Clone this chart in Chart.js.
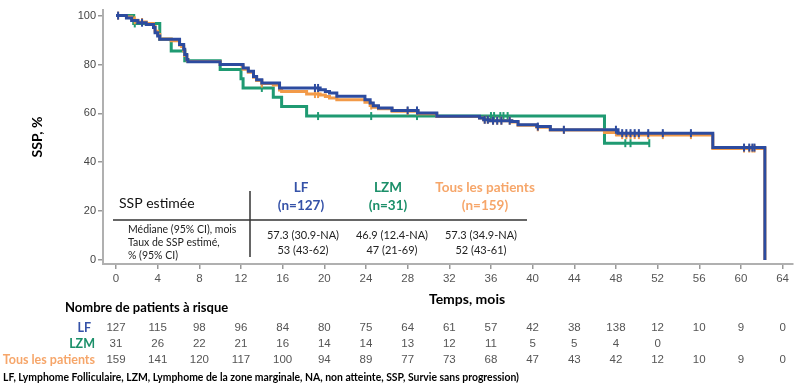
<!DOCTYPE html>
<html><head><meta charset="utf-8">
<script src="https://cdn.jsdelivr.net/npm/chart.js@4/dist/chart.umd.min.js"></script>
<style>html,body{margin:0;padding:0;background:#fff}#wrap{width:800px;height:392px;position:relative}</style>
</head><body><div id="wrap"><canvas id="c" width="800" height="392"></canvas></div>
<script>
// ---- Data ----
const xTickValues = [0,4,8,12,16,20,24,28,32,36,40,44,48,52,56,60,64];
const yTickValues = [0,20,40,60,80,100];

// LF (Lymphome Folliculaire) – event times (months) and survival (%)
const lfTimes = [0,1.0,1.5,2.1,2.9,3.6,3.75,4.0,4.2,6.1,6.5,6.6,6.8,6.9,10.0,12.2,12.7,13.2,13.5,14.0,15.7,19.6,20.1,20.5,21.2,23.9,24.4,24.7,25.2,26.5,29.0,30.8,34.9,35.3,35.9,38.0,38.6,40.4,41.7,48.2,57.3,62.3];
const lfSurv  = [100,99.0,98.0,97.1,96.4,95.1,93.0,91.7,90.3,88.2,86.2,84.1,82.0,81.1,80.0,78.6,77.2,75.1,73.8,72.4,70.4,69.7,69.0,68.3,67.0,65.6,64.2,63.1,62.2,61.2,60.1,58.8,58.1,57.4,57.0,56.7,55.3,54.6,53.3,51.9,46.0,0];
const lfCensor = [0.2,2.5,19.1,19.4,28.0,28.9,35.4,35.7,36.2,36.6,37.0,37.8,40.5,43.0,48.0,48.6,49.0,49.4,49.8,50.2,51.1,52.5,55.2,60.3,60.8,61.1,61.3];

// LZM (Lymphome de la zone marginale)
const lzmTimes = [0,1.7,4.2,5.3,6.6,10.0,12.0,12.2,15.1,15.9,18.3,46.9,51.2];
const lzmSurv  = [100,96.8,90.3,85.5,81.5,78.0,74.2,70.4,66.6,62.8,58.9,47.8,47.8];
const lzmCensor = [1.8,14.0,19.4,24.5,28.9,36.0,36.3,36.9,37.2,37.6,48.9,49.4,51.2];

// Tous les patients
const allTimes = [0,1.0,1.5,1.7,2.1,2.9,3.6,3.75,4.0,4.2,5.3,6.1,6.3,6.5,6.6,6.8,6.9,10.0,12.1,12.2,12.7,13.2,13.5,14.0,15.1,15.7,15.9,18.3,19.6,20.1,20.5,21.2,23.9,24.4,24.7,25.2,26.5,29.0,30.8,34.9,35.3,35.9,38.0,38.6,40.4,41.7,46.9,48.2,57.3,62.3];
const allSurv  = [100,99.4,98.7,98.1,97.4,96.8,95.5,93.6,92.3,90.4,89.7,88.0,87.4,85.6,83.7,81.9,81.2,80.0,79.4,78.1,76.8,74.8,73.5,72.2,71.6,69.6,69.0,67.9,67.5,66.9,66.3,65.6,64.5,63.2,62.5,61.9,60.9,59.8,58.7,58.1,57.4,57.0,56.5,55.1,54.3,53.2,52.2,51.1,45.6,0];
const allCensor = [0.2,1.8,2.5,14.0,19.1,19.4,24.5,28.0,28.9,35.4,35.7,36.2,36.6,37.0,37.8,40.5,43.0,48.0,48.6,49.0,49.4,49.8,50.2,51.1,52.5,55.2,60.3,60.8,61.1,61.3];

// Nombre de patients à risque
const lfRisk  = ["127","115","98","96","84","80","75","64","61","57","42","38","138","12","10","9","0"];
const lzmRisk = ["31","26","22","21","16","14","14","13","12","11","5","5","4","0"];
const allRisk = ["159","141","120","117","100","94","89","77","73","68","47","43","42","12","10","9","0"];

// Table texts
const groupNames = ["LF","LZM","Tous les patients"];
const groupN = ["(n=127)","(n=31)","(n=159)"];
const medianTxt = ["57.3 (30.9-NA)","46.9 (12.4-NA)","57.3 (34.9-NA)"];
const rateTxt = ["53 (43-62)","47 (21-69)","52 (43-61)"];

// ---- Styles ----
const C_LF = '#2c4b9f', C_LZM = '#1f9a72', C_ALL = '#f29a48';
const T_LF = '#3552a8', T_LZM = '#1b8f69', T_ALL = '#f6a66a';

function toPts(T,S){ return T.map((t,i)=>({x:t,y:S[i]})); }
function survAt(T,S,t){ let v=S[0]; for(let i=0;i<T.length;i++){ if(T[i]<=t) v=S[i]; } return v; }
function censorPts(C,T,S){ return C.map(t=>({x:t,y:survAt(T,S,t)})); }

const lineDs = (label,T,S,col)=>({type:'line',label,data:toPts(T,S),borderColor:col,backgroundColor:col,borderWidth:3,stepped:'before',pointRadius:0,fill:false});
const cenDs = (label,C,T,S,col)=>({type:'scatter',label,data:censorPts(C,T,S),borderColor:col,backgroundColor:col,pointStyle:'line',rotation:90,pointRadius:4,borderWidth:2,showLine:false});

const textPlugin = {
  id:'texts',
  afterDraw(chart){
    const ctx = chart.ctx, xs = chart.scales.x;
    ctx.save();
    // y title
    ctx.fillStyle='#000'; ctx.font='bold 14px Lato'; ctx.textAlign='center'; ctx.textBaseline='middle';
    ctx.save(); ctx.translate(37,137); ctx.rotate(-Math.PI/2); ctx.fillText('SSP, %',0,0); ctx.restore();
    // x title
    ctx.fillText('Temps, mois',467,299);
    // at-risk header
    ctx.textAlign='left'; ctx.font='bold 13px Lato';
    ctx.fillText('Nombre de patients à risque',65,308);
    // row labels
    ctx.textAlign='right'; ctx.font='bold 12.5px Lato';
    ctx.fillStyle=T_LF; ctx.fillText('LF',91,328);
    ctx.fillStyle=T_LZM; ctx.fillText('LZM',95,344);
    ctx.fillStyle=T_ALL; ctx.fillText('Tous les patients',95,360);
    // numbers
    ctx.textAlign='center'; ctx.font='11.5px "Liberation Sans"'; ctx.fillStyle='#555';
    lfRisk.forEach((v,i)=>ctx.fillText(v,xs.getPixelForValue(xTickValues[i]),328));
    lzmRisk.forEach((v,i)=>ctx.fillText(v,xs.getPixelForValue(xTickValues[i]),344));
    allRisk.forEach((v,i)=>ctx.fillText(v,xs.getPixelForValue(xTickValues[i]),360));
    // footnote
    ctx.textAlign='left'; ctx.fillStyle='#000'; ctx.font='bold 10.4px Lato';
    ctx.fillText('LF, Lymphome Folliculaire, LZM, Lymphome de la zone marginale, NA, non atteinte, SSP, Survie sans progression)',3,378);
    // inner table
    ctx.strokeStyle='#333'; ctx.lineWidth=1.5;
    ctx.beginPath(); ctx.moveTo(113,220); ctx.lineTo(527,220); ctx.stroke();
    ctx.beginPath(); ctx.moveTo(250,191); ctx.lineTo(250,257); ctx.stroke();
    ctx.fillStyle='#111'; ctx.font='14px Lato'; ctx.textAlign='left';
    ctx.fillText('SSP estimée',119,203);
    ctx.font='10.5px Lato'; ctx.fillStyle='#222';
    ctx.fillText('Médiane (95% CI), mois',128,230);
    ctx.fillText('Taux de SSP estimé,',128,243);
    ctx.fillText('% (95% CI)',128,256);
    const hc=[301,388,485], vc=[303,392,481], tc=[T_LF,T_LZM,T_ALL];
    ctx.textAlign='center';
    for(let i=0;i<3;i++){
      ctx.fillStyle=tc[i]; ctx.font='bold 13.5px Lato';
      ctx.fillText(groupNames[i],hc[i],188);
      ctx.fillText(groupN[i],hc[i],206);
      ctx.fillStyle='#222'; ctx.font='11px Lato';
      ctx.fillText(medianTxt[i],vc[i],235);
      ctx.fillText(rateTxt[i],vc[i],250);
    }
    ctx.restore();
  }
};

new Chart(document.getElementById('c'),{
  data:{datasets:[
    lineDs('LF',lfTimes,lfSurv,C_LF),
    cenDs('LF censurés',lfCensor,lfTimes,lfSurv,C_LF),
    lineDs('Tous les patients',allTimes,allSurv,C_ALL),
    cenDs('Tous censurés',allCensor,allTimes,allSurv,C_ALL),
    lineDs('LZM',lzmTimes,lzmSurv,C_LZM),
    cenDs('LZM censurés',lzmCensor,lzmTimes,lzmSurv,C_LZM)
  ]},
  options:{
    responsive:false, animation:false, devicePixelRatio:1,
    layout:{padding:{top:10,right:7,left:0,bottom:0}},
    plugins:{legend:{display:false},tooltip:{enabled:false}},
    scales:{
      x:{type:'linear',min:-1.25,max:65,
        afterBuildTicks:s=>{s.ticks=xTickValues.map(v=>({value:v}));},
        afterFit:s=>{s.height=128;},
        border:{display:true,color:'#b0b0b0',width:2},
        grid:{display:true,drawOnChartArea:false,drawTicks:true,tickLength:5,color:'#999',lineWidth:1.5},
        ticks:{color:'#555',font:{family:'"Liberation Sans"',size:11.5},padding:3,maxRotation:0,autoSkip:false}
      },
      y:{type:'linear',min:-1.64,max:102.3,
        afterBuildTicks:s=>{s.ticks=yTickValues.map(v=>({value:v}));},
        afterFit:s=>{s.width=103;},
        border:{display:true,color:'#b0b0b0',width:2},
        grid:{display:true,drawOnChartArea:false,drawTicks:true,tickLength:5,color:'#999',lineWidth:1.5},
        ticks:{color:'#444',font:{family:'"Liberation Sans"',size:11},padding:2}
      }
    }
  },
  plugins:[textPlugin]
});
</script></body></html>
